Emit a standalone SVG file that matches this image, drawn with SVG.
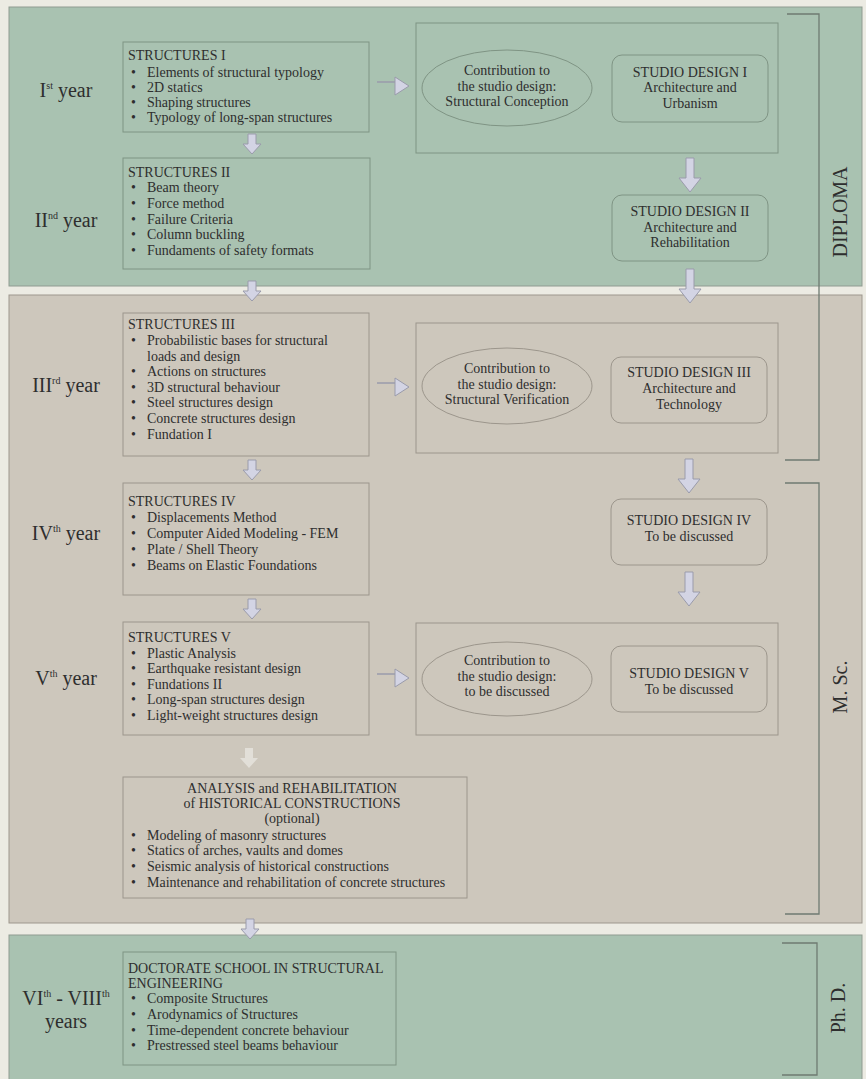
<svg xmlns="http://www.w3.org/2000/svg" width="866" height="1079" viewBox="0 0 866 1079">
<style>
text{font-family:"Liberation Serif","Times New Roman",serif;fill:#2e2e2e}
.t{font-size:14px}
.c{font-size:14px;text-anchor:middle}
.yr{font-size:20px;text-anchor:middle}
.sup{font-size:10px}
.side{font-size:20px;text-anchor:middle}
.boxg{fill:none;stroke:#7f9484;stroke-width:1}
.boxs{fill:none;stroke:#9c968c;stroke-width:1}
.arr{fill:#d3d4e4;stroke:#9a9bab;stroke-width:1}
.brk{fill:none;stroke:#6f7b72;stroke-width:1.3}
</style>
<defs>
<path id="dS" d="M-4,0 H4 V10 H9 L0,20 L-9,10 H-4 Z"/>
<path id="dL" d="M-4,0 H4 V20 H11 L0,34 L-11,20 H-4 Z"/>
<path id="rA" d="M0,-4 H18 V-9 L32,0 L18,9 V-4 Z"/>
</defs>
<rect width="866" height="1079" fill="#ecebe3"/>
<g id="panels">
<rect x="9" y="7" width="853" height="279" fill="#a9c2b1" stroke="#8f9b91"/>
<rect x="9" y="295" width="853" height="628" fill="#cdc7bc" stroke="#9d978e"/>
<rect x="9" y="935" width="853" height="150" fill="#a9c2b1" stroke="#8f9b91"/>
</g>
<g id="year-labels">
<text class="yr" x="66" y="97">I<tspan class="sup" dy="-8">st</tspan><tspan dy="8"> year</tspan></text>
<text class="yr" x="66" y="227">II<tspan class="sup" dy="-8">nd</tspan><tspan dy="8"> year</tspan></text>
<text class="yr" x="66" y="392">III<tspan class="sup" dy="-8">rd</tspan><tspan dy="8"> year</tspan></text>
<text class="yr" x="66" y="540">IV<tspan class="sup" dy="-8">th</tspan><tspan dy="8"> year</tspan></text>
<text class="yr" x="66" y="685">V<tspan class="sup" dy="-8">th</tspan><tspan dy="8"> year</tspan></text>
<text class="yr" x="66" y="1005">VI<tspan class="sup" dy="-8">th</tspan><tspan dy="8"> - VIII</tspan><tspan class="sup" dy="-8">th</tspan></text>
<text class="yr" x="66" y="1028">years</text>
</g>
<g id="brackets">
<path class="brk" d="M787,14 H819 V460 H785"/>
<text class="side" transform="translate(840,212) rotate(-90)" y="7">DIPLOMA</text>
<path class="brk" d="M785,483 H819 V914 H785"/>
<text class="side" transform="translate(840,687) rotate(-90)" y="7">M. Sc.</text>
<path class="brk" d="M782,943 H817 V1075 H782"/>
<text class="side" transform="translate(838,1008) rotate(-90)" y="7">Ph. D.</text>
</g>
<g id="structures-1">
<rect class="boxg" x="123" y="42" width="246" height="90"/>
<text class="t" x="128" y="60">STRUCTURES  I</text>
<text class="t"><tspan x="131" y="77">•</tspan><tspan x="147" y="77">Elements of structural typology</tspan><tspan x="131" y="92">•</tspan><tspan x="147" y="92">2D statics</tspan><tspan x="131" y="107">•</tspan><tspan x="147" y="107">Shaping structures</tspan><tspan x="131" y="122">•</tspan><tspan x="147" y="122">Typology of long-span structures</tspan></text>
</g>
<g id="structures-2">
<rect class="boxg" x="123" y="158" width="247" height="111"/>
<text class="t" x="128" y="177">STRUCTURES  II</text>
<text class="t"><tspan x="131" y="192">•</tspan><tspan x="147" y="192">Beam theory</tspan><tspan x="131" y="208">•</tspan><tspan x="147" y="208">Force method</tspan><tspan x="131" y="224">•</tspan><tspan x="147" y="224">Failure Criteria</tspan><tspan x="131" y="239">•</tspan><tspan x="147" y="239">Column buckling</tspan><tspan x="131" y="255">•</tspan><tspan x="147" y="255">Fundaments of safety formats</tspan></text>
</g>
<g id="studio-group-1">
<rect class="boxg" x="416" y="23" width="362" height="130"/>
</g>
<g id="contribution-1">
<ellipse class="boxg" cx="507" cy="88" rx="85" ry="38"/>
<text class="c" x="507" y="75">Contribution to</text>
<text class="c" x="507" y="91">the studio design:</text>
<text class="c" x="507" y="106">Structural Conception</text>
</g>
<g id="studio-design-1">
<rect class="boxg" x="612" y="55" width="156" height="67" rx="10"/>
<text class="c" x="690" y="77">STUDIO DESIGN I</text>
<text class="c" x="690" y="92">Architecture and</text>
<text class="c" x="690" y="108">Urbanism</text>
</g>
<g id="studio-design-2">
<rect class="boxg" x="612" y="195" width="156" height="66" rx="10"/>
<text class="c" x="690" y="216">STUDIO DESIGN II</text>
<text class="c" x="690" y="232">Architecture and</text>
<text class="c" x="690" y="247">Rehabilitation</text>
</g>
<g id="structures-3">
<rect class="boxs" x="123" y="313" width="246" height="143"/>
<text class="t" x="128" y="329">STRUCTURES  III</text>
<text class="t"><tspan x="131" y="345">•</tspan><tspan x="147" y="345">Probabilistic bases for structural</tspan><tspan x="147" y="361">loads and design</tspan><tspan x="131" y="376">•</tspan><tspan x="147" y="376">Actions on structures</tspan><tspan x="131" y="392">•</tspan><tspan x="147" y="392">3D structural behaviour</tspan><tspan x="131" y="407">•</tspan><tspan x="147" y="407">Steel structures design</tspan><tspan x="131" y="423">•</tspan><tspan x="147" y="423">Concrete structures design</tspan><tspan x="131" y="439">•</tspan><tspan x="147" y="439">Fundation I</tspan></text>
</g>
<g id="studio-group-3">
<rect class="boxs" x="416" y="323" width="362" height="130"/>
</g>
<g id="contribution-3">
<ellipse class="boxs" cx="507" cy="386" rx="85" ry="38"/>
<text class="c" x="507" y="373">Contribution to</text>
<text class="c" x="507" y="389">the studio design:</text>
<text class="c" x="507" y="404">Structural Verification</text>
</g>
<g id="studio-design-3">
<rect class="boxs" x="611" y="357" width="156" height="66" rx="10"/>
<text class="c" x="689" y="377">STUDIO DESIGN III</text>
<text class="c" x="689" y="393">Architecture and</text>
<text class="c" x="689" y="409">Technology</text>
</g>
<g id="structures-4">
<rect class="boxs" x="123" y="483" width="246" height="112"/>
<text class="t" x="128" y="506">STRUCTURES  IV</text>
<text class="t"><tspan x="131" y="522">•</tspan><tspan x="147" y="522">Displacements Method</tspan><tspan x="131" y="538">•</tspan><tspan x="147" y="538">Computer Aided Modeling - FEM</tspan><tspan x="131" y="554">•</tspan><tspan x="147" y="554">Plate / Shell Theory</tspan><tspan x="131" y="570">•</tspan><tspan x="147" y="570">Beams on Elastic Foundations</tspan></text>
</g>
<g id="studio-design-4">
<rect class="boxs" x="611" y="499" width="156" height="66" rx="10"/>
<text class="c" x="689" y="525">STUDIO DESIGN IV</text>
<text class="c" x="689" y="541">To be discussed</text>
</g>
<g id="structures-5">
<rect class="boxs" x="123" y="622" width="246" height="113"/>
<text class="t" x="128" y="642">STRUCTURES  V</text>
<text class="t"><tspan x="131" y="658">•</tspan><tspan x="147" y="658">Plastic Analysis</tspan><tspan x="131" y="673">•</tspan><tspan x="147" y="673">Earthquake resistant design</tspan><tspan x="131" y="689">•</tspan><tspan x="147" y="689">Fundations II</tspan><tspan x="131" y="704">•</tspan><tspan x="147" y="704">Long-span structures design</tspan><tspan x="131" y="720">•</tspan><tspan x="147" y="720">Light-weight structures design</tspan></text>
</g>
<g id="studio-group-5">
<rect class="boxs" x="416" y="623" width="362" height="112"/>
</g>
<g id="contribution-5">
<ellipse class="boxs" cx="507" cy="679" rx="85" ry="37"/>
<text class="c" x="507" y="665">Contribution to</text>
<text class="c" x="507" y="681">the studio design:</text>
<text class="c" x="507" y="696">to be discussed</text>
</g>
<g id="studio-design-5">
<rect class="boxs" x="611" y="646" width="156" height="66" rx="10"/>
<text class="c" x="689" y="678">STUDIO DESIGN V</text>
<text class="c" x="689" y="694">To be discussed</text>
</g>
<g id="historical">
<rect class="boxs" x="123" y="777" width="344" height="121"/>
<text class="c" x="292" y="793">ANALYSIS and REHABILITATION</text>
<text class="c" x="292" y="808">of HISTORICAL CONSTRUCTIONS</text>
<text class="c" x="292" y="823">(optional)</text>
<text class="t"><tspan x="131" y="840">•</tspan><tspan x="147" y="840">Modeling of masonry structures</tspan><tspan x="131" y="855">•</tspan><tspan x="147" y="855">Statics of arches, vaults and domes</tspan><tspan x="131" y="871">•</tspan><tspan x="147" y="871">Seismic analysis of historical constructions</tspan><tspan x="131" y="887">•</tspan><tspan x="147" y="887">Maintenance and rehabilitation of concrete structures</tspan></text>
</g>
<g id="doctorate">
<rect class="boxg" x="123" y="952" width="273" height="113"/>
<text class="t" x="128" y="973">DOCTORATE SCHOOL IN STRUCTURAL</text>
<text class="t" x="128" y="988">ENGINEERING</text>
<text class="t"><tspan x="131" y="1003">•</tspan><tspan x="147" y="1003">Composite Structures</tspan><tspan x="131" y="1019">•</tspan><tspan x="147" y="1019">Arodynamics of Structures</tspan><tspan x="131" y="1035">•</tspan><tspan x="147" y="1035">Time-dependent concrete behaviour</tspan><tspan x="131" y="1050">•</tspan><tspan x="147" y="1050">Prestressed steel beams behaviour</tspan></text>
</g>
<g id="connectors">
<use href="#rA" class="arr" x="377" y="86"/>
<use href="#rA" class="arr" x="377" y="387"/>
<use href="#rA" class="arr" x="377" y="678"/>
<use href="#dS" class="arr" x="252" y="134"/>
<use href="#dS" class="arr" x="252" y="281"/>
<use href="#dS" class="arr" x="252" y="460"/>
<use href="#dS" class="arr" x="252" y="599"/>
<use href="#dS" x="249" y="748" fill="#e2dfd8"/>
<use href="#dS" class="arr" x="250" y="919"/>
<use href="#dL" class="arr" x="690" y="158"/>
<use href="#dL" class="arr" x="690" y="269"/>
<use href="#dL" class="arr" x="689" y="459"/>
<use href="#dL" class="arr" x="689" y="572"/>
</g>
</svg>
